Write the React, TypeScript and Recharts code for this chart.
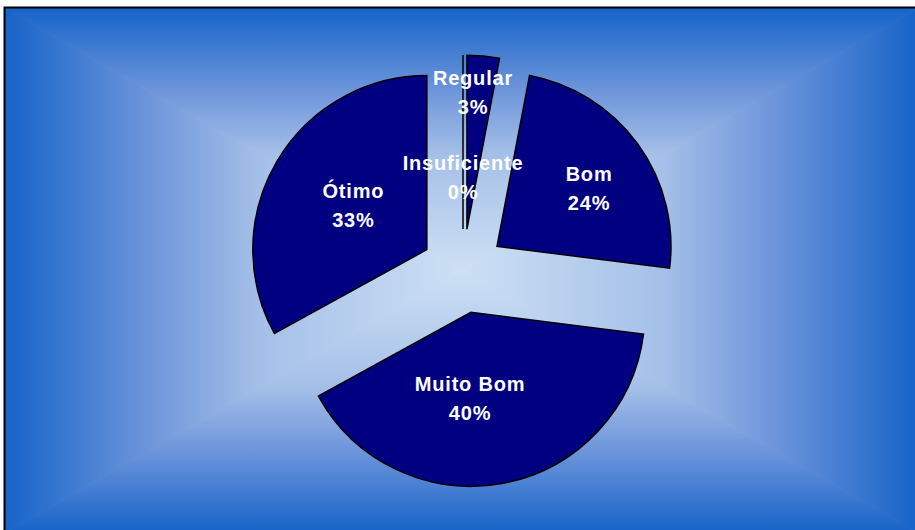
import { PieChart, Pie, Sector } from "recharts";

const categories = ["Insuficiente", "Regular", "Bom", "Muito Bom", "Ótimo"];
const values = [0, 3, 24, 40, 33];

// label placement: distance from pie centre and small angular nudge (deg)
const labelDist = [94, 179, 151, 127, 128];
const labelNudge = [0, 2.2, -2.6, -7.6, -0.5];

const data = categories.map((name, i) => ({ name, value: values[i] }));

const W = 915;
const H = 530;
const CX = 463;
const CY = 271;
const R = 174;
const EXPLODE = 42;
const RADIAN = Math.PI / 180;

const SLICE = "#000080";
const FONT = '"Liberation Sans", Arial, sans-serif';

// frame of the chart area (extends past the right / bottom of the window)
const L = 5;
const T = 8;
const RR = 918;
const B = 533;
const GX = (L + RR) / 2;
const GY = (T + B) / 2;

const stops = [
  { o: 0, c: "#1663c8" },
  { o: 0.32, c: "#6f96db" },
  { o: 0.56, c: "#a5c0e8" },
  { o: 1, c: "#cde0f4" },
];

function Grad({ id, x1, y1, x2, y2 }: any) {
  return (
    <linearGradient id={id} gradientUnits="userSpaceOnUse" x1={x1} y1={y1} x2={x2} y2={y2}>
      {stops.map((s) => (
        <stop key={s.o} offset={s.o} stopColor={s.c} />
      ))}
    </linearGradient>
  );
}

function Background() {
  const tri = (pts: string, id: string) => (
    <polygon points={pts} fill={`url(#${id})`} stroke={`url(#${id})`} strokeWidth={1} />
  );
  return (
    <svg width={W} height={H} style={{ position: "absolute", left: 0, top: 0 }}>
      <defs>
        <Grad id="gt" x1={0} y1={T} x2={0} y2={GY} />
        <Grad id="gb" x1={0} y1={B} x2={0} y2={GY} />
        <Grad id="gl" x1={L} y1={0} x2={GX} y2={0} />
        <Grad id="gr" x1={RR} y1={0} x2={GX} y2={0} />
        <clipPath id="frame">
          <rect x={L} y={T} width={RR - L} height={B - T} />
        </clipPath>
      </defs>
      <rect x={0} y={0} width={W} height={H} fill="#ffffff" />
      <g clipPath="url(#frame)">
        {tri(`${L},${T} ${RR},${T} ${GX},${GY}`, "gt")}
        {tri(`${L},${B} ${RR},${B} ${GX},${GY}`, "gb")}
        {tri(`${L},${T} ${L},${B} ${GX},${GY}`, "gl")}
        {tri(`${RR},${T} ${RR},${B} ${GX},${GY}`, "gr")}
      </g>
      <rect x={L - 0.5} y={T - 0.5} width={RR - L} height={B - T} fill="none" stroke="#000" strokeWidth={2} />
    </svg>
  );
}

// exploded slices drawn from the pie's own geometry
const renderSlice = (props: any) => {
  const { cx, cy, midAngle, startAngle, endAngle, outerRadius, index } = props;
  const ox = cx + EXPLODE * Math.cos(-midAngle * RADIAN);
  const oy = cy + EXPLODE * Math.sin(-midAngle * RADIAN);
  if (Math.abs(endAngle - startAngle) < 0.01) {
    const ex = ox + outerRadius * Math.cos(-startAngle * RADIAN);
    const ey = oy + outerRadius * Math.sin(-startAngle * RADIAN);
    return <line key={`s-${index}`} x1={ox} y1={oy} x2={ex} y2={ey} stroke="#000" strokeWidth={1.5} />;
  }
  return (
    <Sector
      key={`s-${index}`}
      cx={ox}
      cy={oy}
      innerRadius={0}
      outerRadius={outerRadius}
      startAngle={startAngle}
      endAngle={endAngle}
      fill={SLICE}
      stroke="#000"
      strokeWidth={1.5}
    />
  );
};

const renderLabel = (props: any) => {
  const { cx, cy, midAngle, percent, name, index } = props;
  const a = (midAngle + labelNudge[index]) * RADIAN;
  const x = cx + labelDist[index] * Math.cos(-a);
  const y = cy + labelDist[index] * Math.sin(-a);
  return (
    <text
      key={`l-${index}`}
      x={x}
      textAnchor="middle"
      fill="#ffffff"
      fontFamily={FONT}
      fontWeight="bold"
      fontSize={20}
      letterSpacing={0.8}
    >
      <tspan x={x} y={y - 7.3}>
        {name}
      </tspan>
      <tspan x={x} y={y + 21.8}>
        {`${Math.round(percent * 100)}%`}
      </tspan>
    </text>
  );
};

export default function App() {
  return (
    <div style={{ position: "absolute", left: 0, top: 0, width: W, height: H, overflow: "hidden" }}>
      <Background />
      <div style={{ position: "absolute", left: 0, top: 0 }}>
        <PieChart width={W} height={H} margin={{ top: 0, right: 0, bottom: 0, left: 0 }}>
          <Pie
            data={data}
            dataKey="value"
            nameKey="name"
            cx={CX}
            cy={CY}
            outerRadius={R}
            startAngle={90}
            endAngle={-270}
            fill="none"
            stroke="none"
            label={renderSlice}
            labelLine={false}
            isAnimationActive={false}
          />
          <Pie
            data={data}
            dataKey="value"
            nameKey="name"
            cx={CX}
            cy={CY}
            outerRadius={R}
            startAngle={90}
            endAngle={-270}
            fill="none"
            stroke="none"
            label={renderLabel}
            labelLine={false}
            isAnimationActive={false}
          />
        </PieChart>
      </div>
    </div>
  );
}
